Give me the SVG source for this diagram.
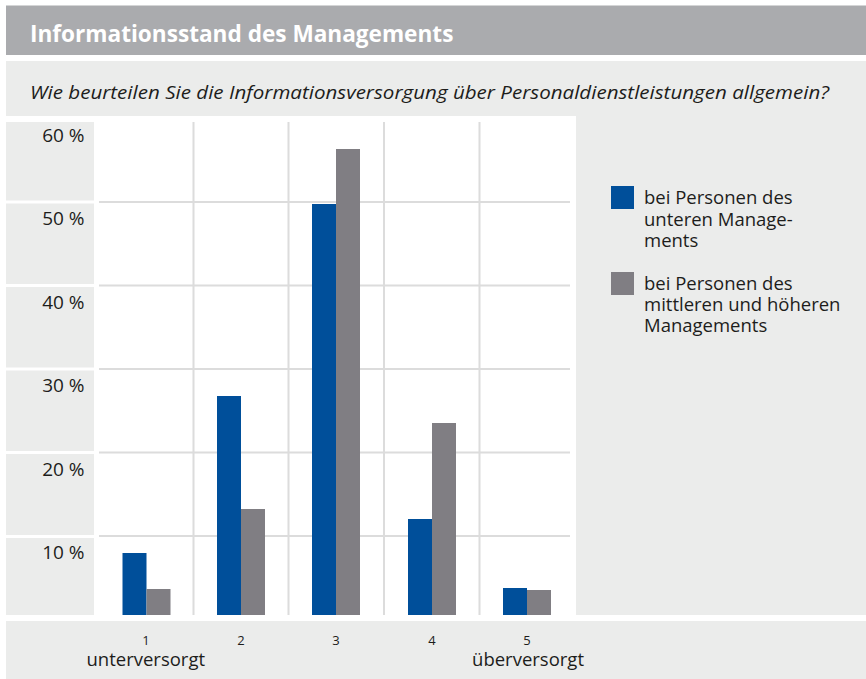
<svg xmlns="http://www.w3.org/2000/svg" width="866" height="679" viewBox="0 0 866 679">
<style>
text{font-family:"Open Sans","Noto Sans","Liberation Sans",sans-serif;fill:#1d1d1b}
.bg{fill:#ebeceb}
.grid{stroke:#dcdcdc;stroke-width:2;fill:none}
.blue{fill:#004f9a}
.gray{fill:#807e83}
.ylab{font-size:19px;text-anchor:end}
.xnum{font-size:13px;text-anchor:middle}
.lab{font-size:18.5px}
</style>
<rect width="866" height="679" fill="#ffffff"/>
<g id="header">
<rect x="6" y="5.5" width="860" height="49.5" fill="#aaabae"/>
<text x="30" y="42" style="font-size:22.6px;font-weight:bold;fill:#ffffff">Informationsstand des Managements</text>
</g>
<g id="question">
<rect class="bg" x="6" y="61" width="860" height="55"/>
<rect class="bg" x="576" y="116" width="290" height="499"/>
<text x="30" y="99" style="font-size:17.5px;font-style:italic" textLength="799" lengthAdjust="spacingAndGlyphs">Wie beurteilen Sie die Informationsversorgung über Personaldienstleistungen allgemein?</text>
</g>
<g id="y-axis">
<rect class="bg" x="6" y="122" width="88" height="78.5"/>
<rect class="bg" x="6" y="203.5" width="88" height="80.5"/>
<rect class="bg" x="6" y="287" width="88" height="80.5"/>
<rect class="bg" x="6" y="370.5" width="88" height="80.5"/>
<rect class="bg" x="6" y="454" width="88" height="81"/>
<rect class="bg" x="6" y="538" width="88" height="77"/>
<text class="ylab" x="84.5" y="142">60 %</text>
<text class="ylab" x="84.5" y="225">50 %</text>
<text class="ylab" x="84.5" y="308.5">40 %</text>
<text class="ylab" x="84.5" y="392">30 %</text>
<text class="ylab" x="84.5" y="475.5">20 %</text>
<text class="ylab" x="84.5" y="559">10 %</text>
</g>
<g id="grid">
<path class="grid" d="M99 202H570M99 285.5H570M99 369H570M99 452.5H570M99 536H570"/>
<path class="grid" d="M193.5 122V615M288.5 122V615M384 122V615M479.5 122V615"/>
</g>
<g id="bars">
<rect class="blue" x="122.5" y="553" width="24" height="62"/>
<rect class="gray" x="146.5" y="589" width="24" height="26"/>
<rect class="blue" x="217" y="396" width="24" height="219"/>
<rect class="gray" x="241" y="509" width="24" height="106"/>
<rect class="blue" x="312" y="204" width="24" height="411"/>
<rect class="gray" x="336" y="149" width="24" height="466"/>
<rect class="blue" x="408" y="519" width="24" height="96"/>
<rect class="gray" x="432" y="423" width="24" height="192"/>
<rect class="blue" x="503" y="588" width="24" height="27"/>
<rect class="gray" x="527" y="590" width="24" height="25"/>
</g>
<g id="legend">
<g id="legend-lower">
<rect class="blue" x="611" y="186" width="23" height="23"/>
<text class="lab" x="644" y="204">bei Personen des</text>
<text class="lab" x="644" y="225.5">unteren Manage-</text>
<text class="lab" x="644" y="246.5">ments</text>
</g>
<g id="legend-upper">
<rect class="gray" x="611" y="272" width="23" height="23"/>
<text class="lab" x="644" y="290">bei Personen des</text>
<text class="lab" x="644" y="311">mittleren und höheren</text>
<text class="lab" x="644" y="332">Managements</text>
</g>
</g>
<g id="x-axis">
<rect class="bg" x="6" y="621" width="860" height="58"/>
<text class="xnum" x="146" y="645">1</text>
<text class="xnum" x="241" y="645">2</text>
<text class="xnum" x="336" y="645">3</text>
<text class="xnum" x="432" y="645">4</text>
<text class="xnum" x="527" y="645">5</text>
<text class="lab" x="86.5" y="666">unterversorgt</text>
<text class="lab" x="584" y="666" text-anchor="end">überversorgt</text>
</g>
</svg>
